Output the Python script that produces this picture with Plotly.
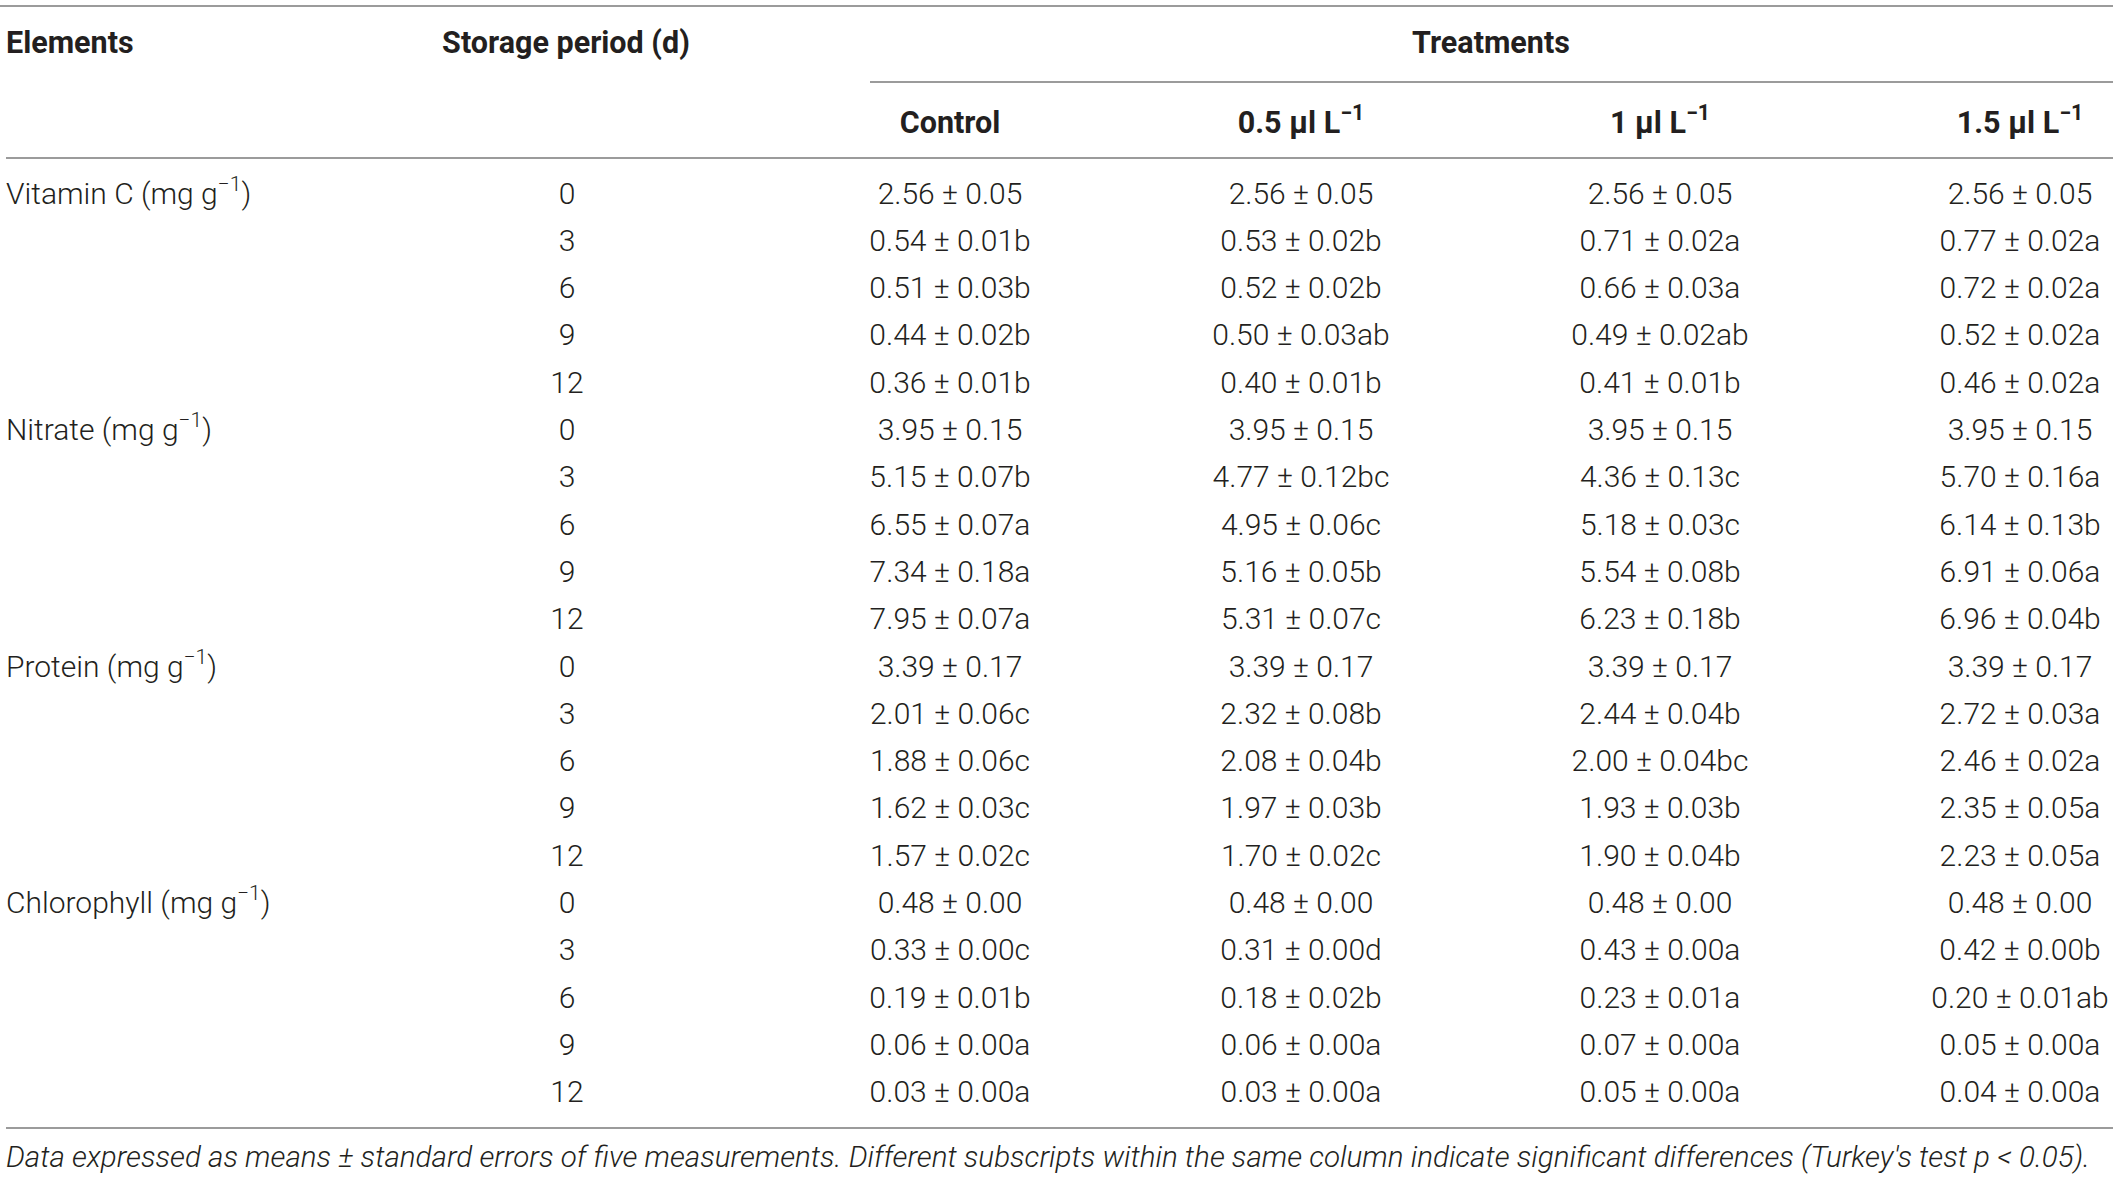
import plotly.graph_objects as go

# table content
elements = ["Vitamin C (mg g<sup>−1</sup>)", "Nitrate (mg g<sup>−1</sup>)",
            "Protein (mg g<sup>−1</sup>)", "Chlorophyll (mg g<sup>−1</sup>)"]
periods = ["0", "3", "6", "9", "12"]
treatments = ["Control", "0.5 μl L<sup>−1</sup>", "1 μl L<sup>−1</sup>", "1.5 μl L<sup>−1</sup>"]

control = ["2.56 ± 0.05", "0.54 ± 0.01b", "0.51 ± 0.03b", "0.44 ± 0.02b", "0.36 ± 0.01b",
           "3.95 ± 0.15", "5.15 ± 0.07b", "6.55 ± 0.07a", "7.34 ± 0.18a", "7.95 ± 0.07a",
           "3.39 ± 0.17", "2.01 ± 0.06c", "1.88 ± 0.06c", "1.62 ± 0.03c", "1.57 ± 0.02c",
           "0.48 ± 0.00", "0.33 ± 0.00c", "0.19 ± 0.01b", "0.06 ± 0.00a", "0.03 ± 0.00a"]
t05 = ["2.56 ± 0.05", "0.53 ± 0.02b", "0.52 ± 0.02b", "0.50 ± 0.03ab", "0.40 ± 0.01b",
       "3.95 ± 0.15", "4.77 ± 0.12bc", "4.95 ± 0.06c", "5.16 ± 0.05b", "5.31 ± 0.07c",
       "3.39 ± 0.17", "2.32 ± 0.08b", "2.08 ± 0.04b", "1.97 ± 0.03b", "1.70 ± 0.02c",
       "0.48 ± 0.00", "0.31 ± 0.00d", "0.18 ± 0.02b", "0.06 ± 0.00a", "0.03 ± 0.00a"]
t1 = ["2.56 ± 0.05", "0.71 ± 0.02a", "0.66 ± 0.03a", "0.49 ± 0.02ab", "0.41 ± 0.01b",
      "3.95 ± 0.15", "4.36 ± 0.13c", "5.18 ± 0.03c", "5.54 ± 0.08b", "6.23 ± 0.18b",
      "3.39 ± 0.17", "2.44 ± 0.04b", "2.00 ± 0.04bc", "1.93 ± 0.03b", "1.90 ± 0.04b",
      "0.48 ± 0.00", "0.43 ± 0.00a", "0.23 ± 0.01a", "0.07 ± 0.00a", "0.05 ± 0.00a"]
t15 = ["2.56 ± 0.05", "0.77 ± 0.02a", "0.72 ± 0.02a", "0.52 ± 0.02a", "0.46 ± 0.02a",
       "3.95 ± 0.15", "5.70 ± 0.16a", "6.14 ± 0.13b", "6.91 ± 0.06a", "6.96 ± 0.04b",
       "3.39 ± 0.17", "2.72 ± 0.03a", "2.46 ± 0.02a", "2.35 ± 0.05a", "2.23 ± 0.05a",
       "0.48 ± 0.00", "0.42 ± 0.00b", "0.20 ± 0.01ab", "0.05 ± 0.00a", "0.04 ± 0.00a"]

footnote = ("Data expressed as means ± standard errors of five measurements. Different subscripts "
            "within the same column indicate significant differences (Turkey's test <i>p</i> < 0.05).")

# layout in page pixels (axes map 1:1 onto the page)
W, H = 2118, 1177
col_x = [950, 1301, 1660, 2020]
period_x = 567
left_x = 6
row0, row_h = 196, 47.3
ink = "#231f20"
rule = "#7a7a7a"
light = dict(family="Roboto, Liberation Sans, sans-serif", size=30, color=ink, weight=300)
bold = dict(family="Roboto, Liberation Sans, sans-serif", size=30.5, color=ink, weight=700)
note = dict(family="Roboto, Liberation Sans, sans-serif", size=29.6, color=ink, weight=300)

n = len(control)
per = len(periods)
row_y = [row0 + i * row_h for i in range(n)]
period_text = [periods[i % per] for i in range(n)]

fig = go.Figure()

# body
fig.add_trace(go.Scatter(x=[left_x] * len(elements), y=row_y[::per], text=elements, mode="text",
                         textposition="middle right", textfont=light))
fig.add_trace(go.Scatter(x=[period_x] * n, y=row_y, text=period_text, mode="text",
                         textposition="middle center", textfont=light))
for cx, col in zip(col_x, [control, t05, t1, t15]):
    fig.add_trace(go.Scatter(x=[cx] * n, y=row_y, text=col, mode="text",
                             textposition="middle center", textfont=light))

# header
fig.add_trace(go.Scatter(x=[left_x], y=[45], text=["Elements"], mode="text",
                         textposition="middle right", textfont=bold))
fig.add_trace(go.Scatter(x=[566, 1491], y=[45, 45], text=["Storage period (d)", "Treatments"],
                         mode="text", textposition="middle center", textfont=bold))
fig.add_trace(go.Scatter(x=col_x, y=[125] * 4, text=treatments, mode="text",
                         textposition="middle center", textfont=bold))

# footnote
fig.add_trace(go.Scatter(x=[left_x], y=[1160], text=["<i>" + footnote + "</i>"], mode="text",
                         textposition="middle right", textfont=note))

# horizontal rules
for x0, x1, y in [(0, 2113, 6), (870, 2113, 82), (6, 2113, 158), (6, 2113, 1128)]:
    fig.add_shape(type="line", x0=x0, x1=x1, y0=y, y1=y, xref="x", yref="y",
                  line=dict(color=rule, width=1.5))

fig.update_layout(width=W, height=H, margin=dict(l=0, r=0, t=0, b=0),
                  plot_bgcolor="white", paper_bgcolor="white", showlegend=False,
                  xaxis=dict(range=[0, W], visible=False, fixedrange=True),
                  yaxis=dict(range=[H, 0], visible=False, fixedrange=True))

# drop the default 8px body margin so the figure sits at the page corner
fig.write_html("out.html", config={"displayModeBar": False},
               post_script="document.body.style.margin='0';")
